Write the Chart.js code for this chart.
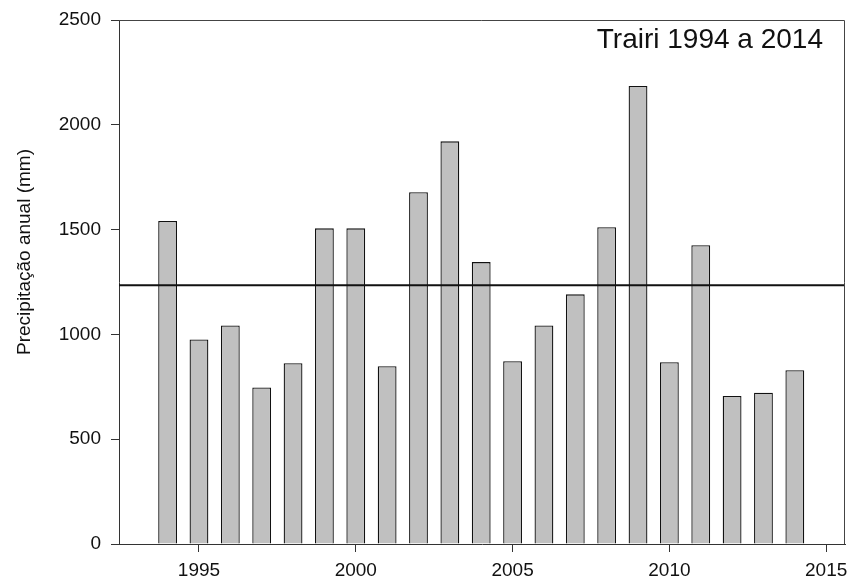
<!DOCTYPE html>
<html><head><meta charset="utf-8">
<script src="https://cdn.jsdelivr.net/npm/chart.js@4/dist/chart.umd.min.js"></script>
<style>html,body{margin:0;padding:0;background:#fff}#wrap{width:850px;height:582px;position:relative}</style>
</head><body><div id="wrap"><canvas id="c" width="850" height="582"></canvas></div>
<script>
const years = [1994,1995,1996,1997,1998,1999,2000,2001,2002,2003,2004,2005,2006,2007,2008,2009,2010,2011,2012,2013,2014];
const precipitation = [1541,976,1043,747,862,1506,1506,848,1678,1921,1345,872,1043,1191,1511,2185,867,1425,706,722,829];
const meanPrecipitation = 1234;
const yTicks = [0,500,1000,1500,2000,2500];
const xTicks = [1995,2000,2005,2010,2015];
const titleText = 'Trairi 1994 a 2014';
const yAxisLabel = 'Precipitação anual (mm)';

const FONT = "'Liberation Sans', Arial, sans-serif";

const decorPlugin = {
  id: 'decor',
  afterDatasetsDraw(chart) {
    const {ctx, chartArea: a, scales} = chart;
    const y = scales.y.getPixelForValue(meanPrecipitation);
    ctx.save();
    ctx.strokeStyle = '#111';
    ctx.lineWidth = 2;
    ctx.beginPath();
    ctx.moveTo(a.left, y);
    ctx.lineTo(a.right, y);
    ctx.stroke();
    ctx.strokeStyle = '#444';
    ctx.lineWidth = 1;
    ctx.beginPath();
    ctx.moveTo(a.left, a.top + 0.5);
    ctx.lineTo(a.right - 0.5, a.top + 0.5);
    ctx.lineTo(a.right - 0.5, a.bottom);
    ctx.stroke();
    ctx.fillStyle = '#111';
    ctx.font = '28px ' + FONT;
    ctx.textAlign = 'right';
    ctx.textBaseline = 'alphabetic';
    ctx.fillText(titleText, a.right - 22, a.top + 28);
    ctx.translate(25, 252);
    ctx.rotate(-Math.PI / 2);
    ctx.font = '19px ' + FONT;
    ctx.textAlign = 'center';
    ctx.textBaseline = 'middle';
    ctx.fillText(yAxisLabel, 0, 0);
    ctx.restore();
  }
};

new Chart(document.getElementById('c'), {
  type: 'bar',
  data: {
    datasets: [{
      data: years.map((yr, i) => ({x: yr, y: precipitation[i]})),
      backgroundColor: '#c0c0c0',
      borderColor: '#111',
      borderWidth: 1.3,
      barPercentage: 0.6,
      categoryPercentage: 1
    }]
  },
  options: {
    responsive: false,
    devicePixelRatio: 1,
    animation: false,
    layout: {padding: {top: 20, right: 5, left: 0, bottom: 0}},
    plugins: {legend: {display: false}, tooltip: {enabled: false}},
    scales: {
      x: {
        type: 'linear',
        min: 1992.45,
        max: 2015.6,
        offset: false,
        afterBuildTicks: s => { s.ticks = xTicks.map(v => ({value: v})); },
        afterFit: s => { s.height = 38; s.paddingLeft = 0; s.paddingRight = 0; },
        ticks: {font: {family: FONT, size: 19}, color: '#111', padding: 7, maxRotation: 0, autoSkip: false,
          callback: v => String(v)},
        grid: {offset: false, drawOnChartArea: false, drawTicks: true, tickLength: 8, color: '#333'},
        border: {display: true, color: '#333', width: 1}
      },
      y: {
        min: 0,
        max: 2500,
        afterBuildTicks: s => { s.ticks = yTicks.map(v => ({value: v})); },
        afterFit: s => { s.width = 119; s.paddingTop = 0; s.paddingBottom = 0; },
        ticks: {font: {family: FONT, size: 19}, color: '#111', padding: 10, crossAlign: 'near',
          callback: v => String(v)},
        grid: {drawOnChartArea: false, drawTicks: true, tickLength: 8, color: '#333'},
        border: {display: true, color: '#333', width: 1}
      }
    }
  },
  plugins: [decorPlugin]
});
</script>
</body></html>
